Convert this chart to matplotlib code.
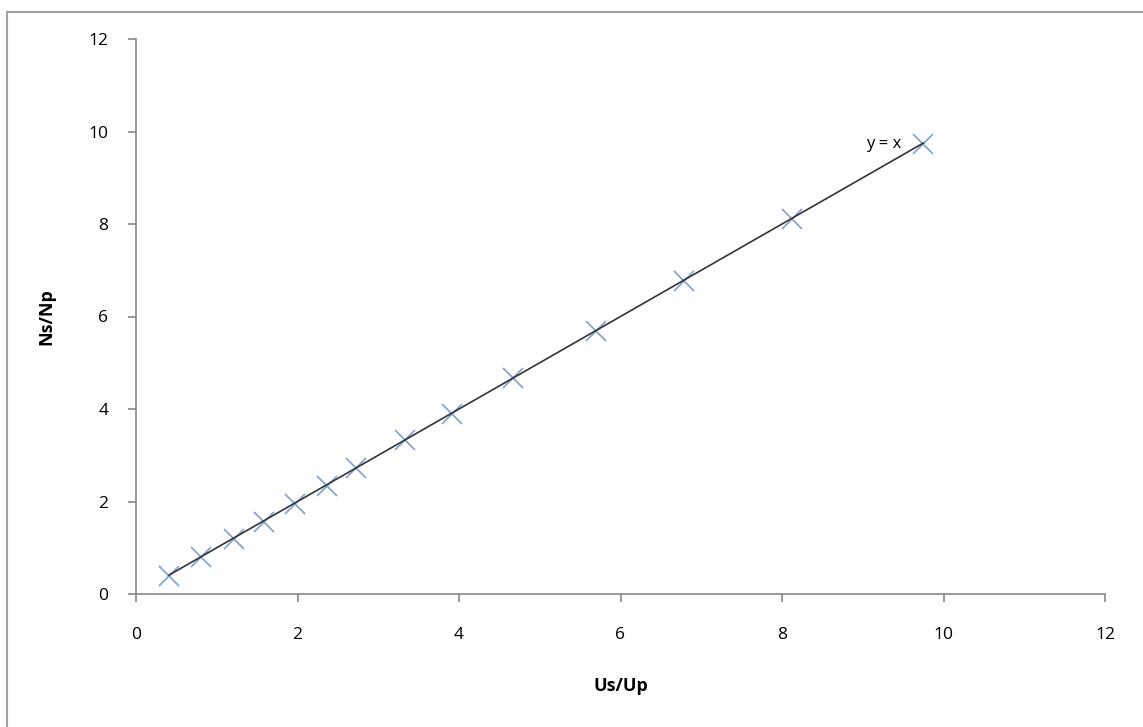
import matplotlib.pyplot as plt
from matplotlib.patches import Rectangle

# ratios
us_up = [0.41, 0.81, 1.21, 1.59, 1.97, 2.36, 2.73, 3.33, 3.91, 4.67, 5.70, 6.79, 8.12, 9.75]
ns_np = [0.40, 0.79, 1.18, 1.56, 1.95, 2.34, 2.72, 3.32, 3.90, 4.66, 5.68, 6.77, 8.11, 9.73]
ticks = [0, 2, 4, 6, 8, 10, 12]

plt.rcParams['font.family'] = ['Open Sans', 'DejaVu Sans']

fig = plt.figure(figsize=(11.43, 7.27), dpi=100)
ax = fig.add_axes([136/1143, 1 - 594/727, (1105 - 136)/1143, (594 - 39)/727])

# outer chart border
fig.patches.append(Rectangle((7/1143, -0.05), 1.1, 1 - 12/727 + 0.05,
                             transform=fig.transFigure, fill=False,
                             edgecolor='#a0a0a0', linewidth=1.5))

ax.plot(us_up, ns_np, linestyle='none', marker='x', markersize=14,
        markeredgewidth=1.2, color='#7f9fcf')
ax.plot([us_up[0], us_up[-1]], [us_up[0], us_up[-1]], color='#333333', lw=1.2)
ax.text(9.48, 9.73, 'y = x', ha='right', va='center', fontsize=12)

ax.set_xlim(0, 12)
ax.set_ylim(0, 12)
ax.set_xticks(ticks)
ax.set_yticks(ticks)
for s in ['top', 'right']:
    ax.spines[s].set_visible(False)
for s in ['left', 'bottom']:
    ax.spines[s].set_color('#868686')
    ax.spines[s].set_linewidth(1.2)
ax.tick_params(colors='#868686', labelcolor='black', labelsize=12.5, length=6, width=1.2)
ax.tick_params(axis='x', pad=18)
ax.tick_params(axis='y', pad=14)

ax.set_xlabel('Us/Up', fontsize=13, fontweight='bold', labelpad=24)
ax.set_ylabel('Ns/Np', fontsize=13, fontweight='bold', labelpad=24)

fig.savefig('out.png', dpi=100)
